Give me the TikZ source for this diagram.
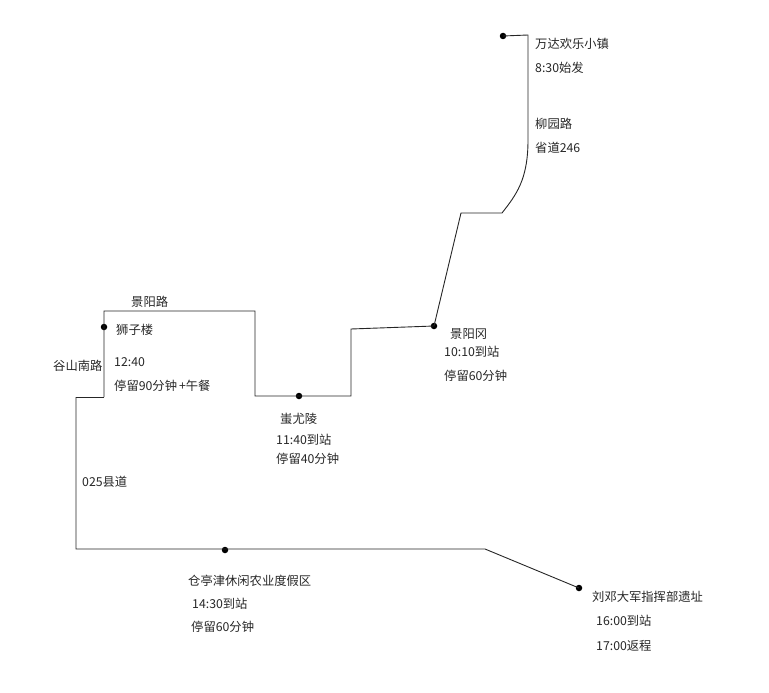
\documentclass[tikz,border=0pt]{standalone}
\usepackage{fontspec}
\setmainfont{Noto Sans CJK SC}
\begin{document}
\begin{tikzpicture}[x=1pt,y=-1pt,
  route/.style={line width=0.9pt,draw=black!85},
  stop/.style={circle,fill=black,inner sep=0pt,minimum size=6.5pt},
  lbl/.style={anchor=west,inner sep=0pt,font=\fontsize{12.3pt}{14pt}\selectfont,text=black!85}]
\useasboundingbox (0,0) rectangle (769,693);
% stops
\node[stop] (wanda) at (503,36) {};
\node[stop] (jyg) at (434,326) {};
\node[stop] (cyl) at (299,396) {};
\node[stop] (szl) at (104,327) {};
\node[stop] (ctj) at (225,550) {};
\node[stop] (ldj) at (579,588) {};
% route bends
\coordinate (a1) at (528,35);
\coordinate (a2) at (528,140);
\coordinate (a3) at (502,213);
\coordinate (a4) at (461,213);
\coordinate (b1) at (351,329);
\coordinate (b2) at (351,396);
\coordinate (b3) at (255,396);
\coordinate (b4) at (255,311);
\coordinate (b5) at (104,311);
\coordinate (b6) at (104,397);
\coordinate (c1) at (76,397);
\coordinate (c2) at (76,549);
\coordinate (c3) at (485,549);
% route
\draw[route] (wanda.center) -- (a1) -- (a2) .. controls (528,180) and (516,195) .. (a3) -- (a4) -- (jyg.center);
\draw[route] (jyg.center) -- (b1) -- (b2) -- (cyl.center) -- (b3) -- (b4) -- (b5) -- (szl.center) -- (b6);
\draw[route] (c1) -- (b6);
\draw[route] (c1) -- (c2) -- (c3) -- (ldj.center);
% labels
\node[lbl] (t1) at (535,44) {万达欢乐小镇};
\node[lbl] (t2) at (535,68) {8:30始发};
\node[lbl] (t3) at (535,124) {柳园路};
\node[lbl] (t4) at (535,148) {省道246};
\node[lbl] (t5) at (450,334) {景阳冈};
\node[lbl] (t6) at (444,352) {10:10到站};
\node[lbl] (t7) at (444,376) {停留60分钟};
\node[lbl] (t8) at (131,302) {景阳路};
\node[lbl] (t9) at (116,330) {狮子楼};
\node[lbl] (t10) at (114,362) {12:40};
\node[lbl] (t11) at (114,386) {停留90分钟\,+午餐};
\node[lbl] (t12) at (53,366) {谷山南路};
\node[lbl] (t13) at (82,482) {025县道};
\node[lbl] (t14) at (280,419) {蚩尤陵};
\node[lbl] (t15) at (276,440) {11:40到站};
\node[lbl] (t16) at (276,459) {停留40分钟};
\node[lbl] (t17) at (188,581) {仓亭津休闲农业度假区};
\node[lbl] (t18) at (192,604) {14:30到站};
\node[lbl] (t19) at (191,627) {停留60分钟};
\node[lbl] (t20) at (592,597) {刘邓大军指挥部遗址};
\node[lbl] (t21) at (596,621) {16:00到站};
\node[lbl] (t22) at (596,646) {17:00返程};
\end{tikzpicture}
\end{document}
